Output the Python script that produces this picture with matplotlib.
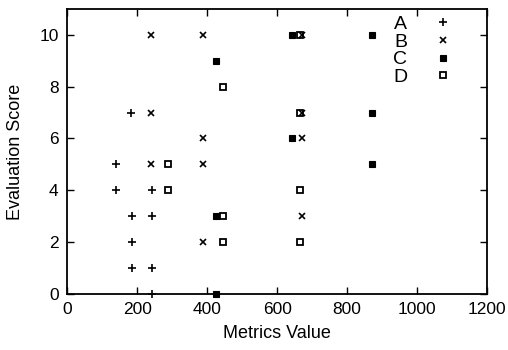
import matplotlib
matplotlib.use("Agg")
import matplotlib.pyplot as plt

plt.rcParams['font.family'] = ['Liberation Sans', 'DejaVu Sans']

# series A (+)
a_x = [140, 140, 183, 243, 186, 243, 186, 186, 243, 243]
a_y = [5, 4, 7, 4, 3, 3, 2, 1, 1, 0]
# series B (x)
b_x = [240, 388, 672, 240, 672, 388, 240, 388, 388, 672, 672]
b_y = [10, 10, 10, 7, 7, 6, 5, 5, 2, 3, 6]
# series C (filled star)
c_x = [425, 642, 870, 642, 870, 425, 425, 870]
c_y = [9, 10, 10, 6, 7, 3, 0, 5]
# series D (box)
d_x = [665, 445, 665, 287, 287, 665, 445, 445, 665]
d_y = [10, 8, 7, 5, 4, 4, 3, 2, 2]

x_ticks = [0, 200, 400, 600, 800, 1000, 1200]
y_ticks = [0, 2, 4, 6, 8, 10]

fig = plt.figure(figsize=(5.08, 3.5), dpi=100)
ax = fig.add_axes([0.132, 0.161, 0.827, 0.813])

ax.plot(a_x, a_y, ls='none', marker='+', ms=6, mew=1.2, color='black', label='A', clip_on=False, zorder=3)
ax.plot(b_x, b_y, ls='none', marker='x', ms=5, mew=1.2, color='black', label='B', clip_on=False, zorder=3)
ax.plot(c_x, c_y, ls='none', marker='s', ms=4.5, mew=0.8, color='black', label='C', clip_on=False, zorder=3)
ax.plot(d_x, d_y, ls='none', marker='s', ms=5, mew=1.3, mfc='none', color='black', label='D', clip_on=False, zorder=3)

ax.set_xlim(0, 1200)
ax.set_ylim(0, 11)
ax.set_xticks(x_ticks)
ax.set_yticks(y_ticks)
ax.tick_params(direction='in', top=True, right=True, length=5, width=1, labelsize=12.5, pad=6)
for s in ax.spines.values():
    s.set_linewidth(1.3)

ax.set_xlabel('Metrics Value', fontsize=13, labelpad=6)
ax.set_ylabel('Evaluation Score', fontsize=13, labelpad=11)

ax.legend(loc='upper right', bbox_to_anchor=(0.962, 1.025), frameon=False, markerfirst=False,
          fontsize=14, handlelength=1.5, handletextpad=1.1, labelspacing=0.0, borderpad=0.2)

fig.savefig('out.png', dpi=100)
